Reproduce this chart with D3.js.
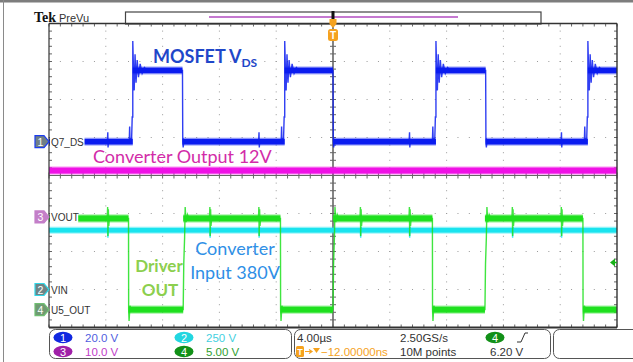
<!DOCTYPE html>
<html>
<head>
<meta charset="utf-8">
<script src="https://cdn.jsdelivr.net/npm/d3@7"></script>
<style>
body { margin: 0; background: #fff; }
svg { display: block; }
</style>
</head>
<body>
<script>
// Screen and graticule geometry
var width = 633;
var height = 362;
var grid = {left: 49, right: 617, top: 23.5, bottom: 327.5};

// Horizontal: 4.00 us/div, 10 divisions, trigger at centre
var timeRange = [-20, 20];

// Channel set-up: volts/div and ground offset (divisions from centre)
var chIds = ["1", "2", "3", "4"];
var chLabels = ["Q7_DS", "VIN", "VOUT", "U5_OUT"];
var chVoltsDiv = [20, 250, 10, 5];
var chOffset = [0.89, -3.0, -1.09, -3.53];
var chColors = ["#0b1cf0", "#1ae4ee", "#f012e6", "#1fe01f"];
var chNoise = [1.5, 16, 0.8, 0.4];

// CH1 - MOSFET Vds (us, V)
var ch1Rise = [-14.1, -3.4, 7.25, 17.95];
var ch1Fall = [-10.6, 0.0, 10.75];
var ch1Low = 0;
var ch1High = 37.5;
var ch1PreRise = [[-0.25, 0], [-0.22, 8], [-0.19, 0], [-0.08, 2], [-0.04, 13], [0, 13]];
var ch1Ring = [[0, 53], [0.05, 38], [0.1, 27], [0.16, 46], [0.23, 31], [0.31, 43], [0.4, 34], [0.52, 41], [0.66, 36], [0.82, 39], [1.0, 37.5]];
var ch1FallShape = [[0, 37.5], [0.02, 0], [0.05, -3], [0.1, 1], [0.2, 0]];
var ch1Glitch = [-15.85, -5.2, 5.4, 16.1];
var ch1GlitchShape = [[-0.04, 0], [-0.01, 5], [0.01, -3], [0.04, 1], [0.07, 0]];

// CH2 - converter input
var ch2Level = 390;
var ch2Glitch = [-15.85, -8.65, -5.2, 1.95, 5.4, 12.65, 16.1];
var ch2GlitchShape = [[-0.03, 0], [0, -50], [0.03, 20], [0.06, 0]];

// CH3 - converter output
var ch3Level = 12.2;

// CH4 - driver output
var ch4Rise = [-10.55, 0.0, 10.7];
var ch4Fall = [-14.4, -3.7, 7.0, 17.6];
var ch4Low = 0;
var ch4High = 12;
var ch4RiseShape = [[0, 0], [0.04, 6], [0.1, 9.5], [0.14, 13.5], [0.2, 11.5], [0.3, 12.5], [0.4, 12]];
var ch4FallShape = [[0, 12], [0.01, 0], [0.04, -1.5], [0.1, 0.5], [0.2, 0]];
var ch4Glitch = [-15.85, -8.65, -5.2, 1.95, 5.4, 12.65, 16.1];
var ch4GlitchShape = [[-0.05, 0], [-0.02, 1.5], [0, -2.3], [0.03, 1.2], [0.06, -1], [0.1, 0]];

// Trigger level (CH4, V)
var trigLevel = 6.2;

// Readouts
var scaleText = ["20.0 V", "250 V", "10.0 V", "5.00 V"];
var horizText = ["4.00\u00b5s", "2.50GS/s", "10M points", "6.20 V"];
var trigPosText = "\u221212.00000ns";

// Scales
var x = d3.scaleLinear().domain(timeRange).range([grid.left, grid.right]);
var yDiv = d3.scaleLinear().domain([-4, 4]).range([grid.bottom, grid.top]);

function yCh(ch, v) {
    return yDiv(chOffset[ch] + v / chVoltsDiv[ch]);
}

var svg = d3.select("body").append("svg")
    .attr("width", width)
    .attr("height", height);

// Frame around the screenshot
svg.append("rect").attr("x", 0).attr("y", 0).attr("width", width).attr("height", 2.5).attr("fill", "#7d7d7d");
svg.append("line").attr("x1", 3.5).attr("x2", 3.5).attr("y1", 0).attr("y2", height)
    .attr("stroke", "#8a8a8a").attr("stroke-width", 1);

// Tek PreVu header
svg.append("text").attr("x", 34).attr("y", 22)
    .style("font-family", "Liberation Serif").style("font-weight", "bold").style("font-size", "14px")
    .attr("fill", "#111").text("Tek");
svg.append("text").attr("x", 59).attr("y", 22)
    .style("font-family", "Liberation Sans").style("font-size", "11px")
    .attr("fill", "#333").text("PreVu");

// Record view bar
svg.append("rect").attr("x", 125.5).attr("y", 12).attr("width", 415.5).attr("height", 12)
    .attr("fill", "#fff").attr("stroke", "#444").attr("stroke-width", 1.2);
svg.append("line").attr("x1", 209).attr("x2", 458).attr("y1", 17).attr("y2", 17)
    .attr("stroke", "#b24cc0").attr("stroke-width", 1.3);

// Grid dots
var dots = svg.append("g").attr("fill", "#9a9a9a");
d3.range(-16, 17, 4).filter(function(t) { return t !== 0; }).forEach(function(t) {
    d3.range(-4, 4.001, 0.2).forEach(function(d) {
        dots.append("rect").attr("x", x(t) - 0.5).attr("y", yDiv(d) - 0.5).attr("width", 1).attr("height", 1);
    });
});
d3.range(-3, 4, 1).filter(function(d) { return d !== 0; }).forEach(function(d) {
    d3.range(-20, 20.001, 0.8).forEach(function(t) {
        dots.append("rect").attr("x", x(t) - 0.5).attr("y", yDiv(d) - 0.5).attr("width", 1).attr("height", 1);
    });
});

// Centre crosshair with minor ticks
var cross = svg.append("g").attr("stroke", "#666").attr("stroke-width", 1);
cross.append("line").attr("x1", x(0)).attr("x2", x(0)).attr("y1", grid.top).attr("y2", grid.bottom).attr("stroke-width", 1.6);
cross.append("line").attr("x1", grid.left).attr("x2", grid.right).attr("y1", yDiv(0)).attr("y2", yDiv(0)).attr("stroke-width", 1.2);
d3.range(-4, 4.001, 0.2).forEach(function(d) {
    cross.append("line").attr("x1", x(0) - 3).attr("x2", x(0) + 3).attr("y1", yDiv(d)).attr("y2", yDiv(d));
    cross.append("line").attr("x1", grid.left).attr("x2", grid.left + 3).attr("y1", yDiv(d)).attr("y2", yDiv(d));
    cross.append("line").attr("x1", grid.right - 3).attr("x2", grid.right).attr("y1", yDiv(d)).attr("y2", yDiv(d));
});
d3.range(-20, 20.001, 0.8).forEach(function(t) {
    cross.append("line").attr("x1", x(t)).attr("x2", x(t)).attr("y1", yDiv(0) - 3).attr("y2", yDiv(0) + 3);
    cross.append("line").attr("x1", x(t)).attr("x2", x(t)).attr("y1", grid.top).attr("y2", grid.top + 3);
    cross.append("line").attr("x1", x(t)).attr("x2", x(t)).attr("y1", grid.bottom - 3).attr("y2", grid.bottom);
});

// Build flat segments of a two-level signal from its edges
function segmentsOf(rises, falls, low, high) {
    var edges = rises.map(function(t) { return {t: t, v: high, kind: "rise"}; })
        .concat(falls.map(function(t) { return {t: t, v: low, kind: "fall"}; }))
        .sort(function(a, b) { return a.t - b.t; });
    var segs = [];
    var t0 = timeRange[0];
    var v = edges.length && edges[0].kind === "rise" ? low : high;
    var kind = null;
    edges.forEach(function(e) {
        segs.push({t0: t0, t1: e.t, v: v, start: kind});
        t0 = e.t; v = e.v; kind = e.kind;
    });
    segs.push({t0: t0, t1: timeRange[1], v: v, start: kind});
    return segs;
}

// Turn segments into trace points (edge shapes and glitches added)
function tracePoints(segs, opt) {
    var pts = [];
    segs.forEach(function(s, i) {
        if (s.start === "rise" && opt.rise) {
            opt.rise.forEach(function(p) { pts.push([s.t0 + p[0], p[1]]); });
        } else if (s.start === "fall" && opt.fall) {
            opt.fall.forEach(function(p) { pts.push([s.t0 + p[0], p[1]]); });
        } else {
            pts.push([s.t0, s.v]);
        }
        (opt.glitches || []).forEach(function(g) {
            if (g > s.t0 + 0.3 && g < s.t1 - 0.3) {
                opt.glitchShape.forEach(function(p) { pts.push([g + p[0], s.v + p[1]]); });
            }
        });
        var next = segs[i + 1];
        if (next && next.start === "rise" && opt.preRise) {
            opt.preRise.forEach(function(p) { pts.push([s.t1 + p[0], s.v + p[1]]); });
        } else {
            pts.push([s.t1, s.v]);
        }
    });
    return pts;
}

var traces = svg.append("g");

function drawTrace(ch, segs, pts) {
    var color = chColors[ch];
    // faint fuzz around the noise band
    traces.append("g").selectAll("rect")
        .data(segs)
        .enter()
        .append("rect")
        .attr("x", function(s) { return x(s.t0); })
        .attr("width", function(s) { return Math.max(0, x(s.t1) - x(s.t0)); })
        .attr("y", function(s) { return yCh(ch, s.v + chNoise[ch]) - 1.2; })
        .attr("height", function(s) { return yCh(ch, s.v - chNoise[ch]) - yCh(ch, s.v + chNoise[ch]) + 2.4; })
        .attr("fill", color)
        .attr("fill-opacity", 0.35);
    traces.append("g").selectAll("rect")
        .data(segs)
        .enter()
        .append("rect")
        .attr("x", function(s) { return x(s.t0); })
        .attr("width", function(s) { return Math.max(0, x(s.t1) - x(s.t0)); })
        .attr("y", function(s) { return yCh(ch, s.v + chNoise[ch]); })
        .attr("height", function(s) { return yCh(ch, s.v - chNoise[ch]) - yCh(ch, s.v + chNoise[ch]); })
        .attr("fill", color);
    var line = d3.line()
        .x(function(p) { return x(p[0]); })
        .y(function(p) { return yCh(ch, p[1]); });
    traces.append("path")
        .attr("d", line(pts))
        .attr("fill", "none")
        .attr("stroke", color)
        .attr("stroke-width", 1.4)
        .attr("stroke-opacity", 0.85);
}

// CH2 (cyan) first, then CH3, CH1, and CH4 on top
var seg2 = [{t0: timeRange[0], t1: timeRange[1], v: ch2Level, start: null}];
drawTrace(1, seg2, tracePoints(seg2, {glitches: ch2Glitch, glitchShape: ch2GlitchShape}));

var seg3 = [{t0: timeRange[0], t1: timeRange[1], v: ch3Level, start: null}];
drawTrace(2, seg3, tracePoints(seg3, {}));

var seg1 = segmentsOf(ch1Rise, ch1Fall, ch1Low, ch1High);
drawTrace(0, seg1, tracePoints(seg1, {rise: ch1Ring, fall: ch1FallShape, preRise: ch1PreRise,
    glitches: ch1Glitch, glitchShape: ch1GlitchShape}));

var seg4 = segmentsOf(ch4Rise, ch4Fall, ch4Low, ch4High);
drawTrace(3, seg4, tracePoints(seg4, {rise: ch4RiseShape, fall: ch4FallShape,
    glitches: ch4Glitch, glitchShape: ch4GlitchShape}));

// Graticule border
var border = svg.append("g").attr("stroke", "#333").attr("fill", "none");
border.append("line").attr("x1", grid.left).attr("x2", grid.right).attr("y1", grid.top).attr("y2", grid.top).attr("stroke-width", 1.4);
border.append("line").attr("x1", grid.left).attr("x2", grid.left).attr("y1", grid.top).attr("y2", grid.bottom).attr("stroke-width", 1.2);
border.append("line").attr("x1", grid.right).attr("x2", grid.right).attr("y1", grid.top).attr("y2", grid.bottom).attr("stroke-width", 1.4);
border.append("line").attr("x1", grid.left).attr("x2", grid.right).attr("y1", grid.bottom).attr("y2", grid.bottom).attr("stroke-width", 2);

// Channel ground markers and labels
var markerFill = ["#6f7f86", "#6f8486", "#c47fc8", "#6f9a72"];
var markerStroke = ["#1c3cf0", "#30d8e8", "#c47fc8", "#6fbf72"];
chIds.forEach(function(id, ch) {
    var yy = yCh(ch, 0);
    svg.append("rect").attr("x", 50).attr("y", yy - 6).attr("width", chLabels[ch].length * 6.3 + 3).attr("height", 12)
        .attr("fill", "#fff");
    svg.append("path")
        .attr("d", "M35," + (yy - 6) + "H44L49," + yy + "L44," + (yy + 6) + "H35Z")
        .attr("fill", markerFill[ch]).attr("stroke", markerStroke[ch]).attr("stroke-width", 1.2);
    svg.append("text").attr("x", 40.5).attr("y", yy + 4)
        .attr("text-anchor", "middle")
        .style("font-family", "Liberation Sans").style("font-size", "10.5px")
        .attr("fill", "#fff").text(id);
    svg.append("text").attr("x", 51).attr("y", yy + 4)
        .style("font-family", "Liberation Sans").style("font-size", "10px")
        .attr("fill", "#333").text(chLabels[ch]);
});

// Trigger level arrow (CH4)
var yt = yCh(3, trigLevel);
svg.append("path")
    .attr("d", "M" + (grid.right - 7) + "," + yt + "L" + (grid.right - 2) + "," + (yt - 4) + "V" + (yt + 4) + "Z")
    .attr("fill", "#17b017");
svg.append("line").attr("x1", grid.right - 3).attr("x2", grid.right).attr("y1", yt).attr("y2", yt)
    .attr("stroke", "#17b017").attr("stroke-width", 1.5);

// Trigger position marker
svg.append("rect").attr("x", x(0) - 1.5).attr("y", 11).attr("width", 3).attr("height", 12).attr("fill", "#111");
svg.append("path")
    .attr("d", "M" + (x(0) - 3.5) + ",19H" + (x(0) + 3.5) + "V24L" + x(0) + ",28L" + (x(0) - 3.5) + ",24Z")
    .attr("fill", "#f5a21e");
svg.append("rect").attr("x", x(0) - 5).attr("y", 29).attr("width", 10).attr("height", 12).attr("rx", 2.5)
    .attr("fill", "#f5a21e");
svg.append("text").attr("x", x(0)).attr("y", 39).attr("text-anchor", "middle")
    .style("font-family", "Liberation Sans").style("font-weight", "bold").style("font-size", "10px")
    .attr("fill", "#fff").text("T");

// Annotations
var ann = svg.append("g").style("font-family", "Lato");
var mos = ann.append("text").attr("x", 153).attr("y", 63)
    .style("font-weight", "bold").style("font-size", "18px").attr("fill", "#1f47c9");
mos.append("tspan").text("MOSFET V");
mos.append("tspan").attr("dy", 4).style("font-size", "12px").text("DS");
ann.append("text").attr("x", 93).attr("y", 163)
    .style("font-size", "18px").attr("fill", "#d22ca8").text("Converter Output 12V");
ann.append("text").attr("x", 159).attr("y", 272).attr("text-anchor", "middle")
    .style("font-weight", "bold").style("font-size", "17px").attr("fill", "#8ccf4e").text("Driver");
ann.append("text").attr("x", 160).attr("y", 296).attr("text-anchor", "middle")
    .style("font-weight", "bold").style("font-size", "17px").attr("fill", "#8ccf4e").text("OUT");
ann.append("text").attr("x", 235).attr("y", 255).attr("text-anchor", "middle")
    .style("font-size", "18px").attr("fill", "#2f8fe6").text("Converter");
ann.append("text").attr("x", 235).attr("y", 279).attr("text-anchor", "middle")
    .style("font-size", "18px").attr("fill", "#2f8fe6").text("Input 380V");

// Bottom readout boxes
var panel = svg.append("g").attr("fill", "none").attr("stroke", "#555").attr("stroke-width", 1);
panel.append("rect").attr("x", 49.5).attr("y", 329.5).attr("width", 242).attr("height", 29).attr("rx", 6);
panel.append("rect").attr("x", 294.5).attr("y", 329.5).attr("width", 256).attr("height", 29).attr("rx", 6);
panel.append("rect").attr("x", 553.5).attr("y", 329.5).attr("width", 100).attr("height", 29).attr("rx", 6);

var ovalColor = ["#1028e0", "#22d6e0", "#a020a8", "#129018"];
var readColor = ["#5060e0", "#44d0e0", "#c040c8", "#30a030"];
var ovalPos = [[63, 337.5], [184, 337.5], [63, 351.5], [184, 351.5]];
var readFont = "Liberation Sans";

chIds.forEach(function(id, ch) {
    var p = ovalPos[ch];
    svg.append("ellipse").attr("cx", p[0]).attr("cy", p[1]).attr("rx", 9.5).attr("ry", 5.8)
        .attr("fill", ovalColor[ch]);
    svg.append("text").attr("x", p[0]).attr("y", p[1] + 4).attr("text-anchor", "middle")
        .style("font-family", readFont).style("font-size", "11px").attr("fill", "#fff").text(id);
    svg.append("text").attr("x", p[0] + 22).attr("y", p[1] + 4.5)
        .style("font-family", readFont).style("font-size", "11.5px").attr("fill", readColor[ch]).text(scaleText[ch]);
});

var readouts = svg.append("g").style("font-family", readFont).style("font-size", "11.5px").attr("fill", "#333");
readouts.append("text").attr("x", 297).attr("y", 342).text(horizText[0]);
readouts.append("text").attr("x", 400).attr("y", 342).text(horizText[1]);
readouts.append("text").attr("x", 400).attr("y", 356).text(horizText[2]);
readouts.append("text").attr("x", 490).attr("y", 356).text(horizText[3]);

// Trigger source and slope
svg.append("ellipse").attr("cx", 495).attr("cy", 337.5).attr("rx", 9.5).attr("ry", 5.8).attr("fill", ovalColor[3]);
svg.append("text").attr("x", 495).attr("y", 341.5).attr("text-anchor", "middle")
    .style("font-family", readFont).style("font-size", "11px").attr("fill", "#fff").text("4");
svg.append("path").attr("d", "M517,342L521,342L525,333L528,333")
    .attr("fill", "none").attr("stroke", "#333").attr("stroke-width", 1);

// Trigger position readout (orange)
svg.append("rect").attr("x", 296).attr("y", 346).attr("width", 8).attr("height", 11).attr("rx", 1.5).attr("fill", "#f5a21e");
svg.append("text").attr("x", 300).attr("y", 355).attr("text-anchor", "middle")
    .style("font-family", readFont).style("font-weight", "bold").style("font-size", "9px").attr("fill", "#fff").text("T");
svg.append("path").attr("d", "M305,351.5H311M309,349.5L312,351.5L309,353.5")
    .attr("fill", "none").attr("stroke", "#f5a21e").attr("stroke-width", 1.2);
svg.append("path").attr("d", "M313,348H320L316.5,353Z").attr("fill", "#f5a21e");
svg.append("text").attr("x", 321).attr("y", 356)
    .style("font-family", readFont).style("font-size", "11.5px").attr("fill", "#f5a21e").text(trigPosText);
</script>
</body>
</html>
